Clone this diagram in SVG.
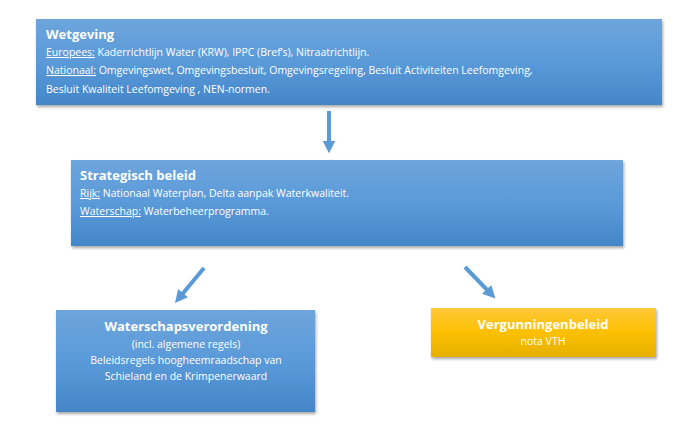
<svg xmlns="http://www.w3.org/2000/svg" width="695" height="437" viewBox="0 0 695 437">
<style>
text{font-family:"Open Sans","Liberation Sans",sans-serif;fill:#fff}
.t{font-size:13px;font-weight:bold}
.b{font-size:10.5px}
.u{text-decoration:underline}
.box{fill:url(#bl)}
</style>
<defs>
<linearGradient id="bl" x1="0" y1="0" x2="0" y2="1"><stop offset="0" stop-color="#6ea5dc"/><stop offset="0.5" stop-color="#5a9ad9"/><stop offset="1" stop-color="#4486c8"/></linearGradient>
<linearGradient id="yl" x1="0" y1="0" x2="0" y2="1"><stop offset="0" stop-color="#ffc83a"/><stop offset="0.5" stop-color="#fcc000"/><stop offset="1" stop-color="#e6b000"/></linearGradient>
<filter id="sh" x="-5%" y="-10%" width="110%" height="130%"><feDropShadow dx="1" dy="2" stdDeviation="1.5" flood-color="#000" flood-opacity="0.35"/></filter>
<marker id="ah" viewBox="0 0 10 10" refX="5" refY="5" markerWidth="3.2" markerHeight="3.2" orient="auto"><path d="M0,0 L10,5 L0,10 z" fill="#5b9bd5"/></marker>
</defs>
<g id="wetgeving">
<rect class="box" x="36" y="19" width="626" height="86" filter="url(#sh)"/>
<text class="t" x="46" y="39">Wetgeving</text>
<text class="b" x="46" y="56"><tspan class="u">Europees:</tspan>  Kaderrichtlijn Water (KRW),  IPPC (Bref’s), Nitraatrichtlijn.</text>
<text class="b" x="46" y="74"><tspan class="u">Nationaal:</tspan>  Omgevingswet, Omgevingsbesluit, Omgevingsregeling, Besluit Activiteiten Leefomgeving,</text>
<text class="b" x="46" y="93">Besluit Kwaliteit Leefomgeving ,  NEN-normen.</text>
</g>
<g id="strategisch">
<rect class="box" x="71" y="160" width="552" height="86" filter="url(#sh)"/>
<text class="t" x="80" y="180">Strategisch beleid</text>
<text class="b" x="80" y="197"><tspan class="u">Rijk:</tspan> Nationaal  Waterplan, Delta aanpak Waterkwaliteit.</text>
<text class="b" x="80" y="215"><tspan class="u">Waterschap:</tspan>  Waterbeheerprogramma.</text>
</g>
<g id="verordening">
<rect class="box" x="56" y="310" width="259" height="102" filter="url(#sh)"/>
<text class="t" x="186" y="331" text-anchor="middle">Waterschapsverordening</text>
<text class="b" x="186" y="348" text-anchor="middle">(incl. algemene regels)</text>
<text class="b" x="186" y="364" text-anchor="middle">Beleidsregels hoogheemraadschap van</text>
<text class="b" x="186" y="380" text-anchor="middle">Schieland en de Krimpenerwaard</text>
</g>
<g id="vergunning">
<rect x="431" y="308" width="225" height="49" fill="url(#yl)" filter="url(#sh)"/>
<text class="t" x="543" y="329" text-anchor="middle">Vergunningenbeleid</text>
<text class="b" x="543" y="345" text-anchor="middle">nota VTH</text>
</g>
<g id="connectors" stroke="#5b9bd5" stroke-width="4" fill="none" marker-end="url(#ah)">
<line x1="329" y1="111" x2="329" y2="147"/>
<line x1="204" y1="268" x2="179" y2="298"/>
<line x1="465" y1="267" x2="491" y2="294"/>
</g>
</svg>
